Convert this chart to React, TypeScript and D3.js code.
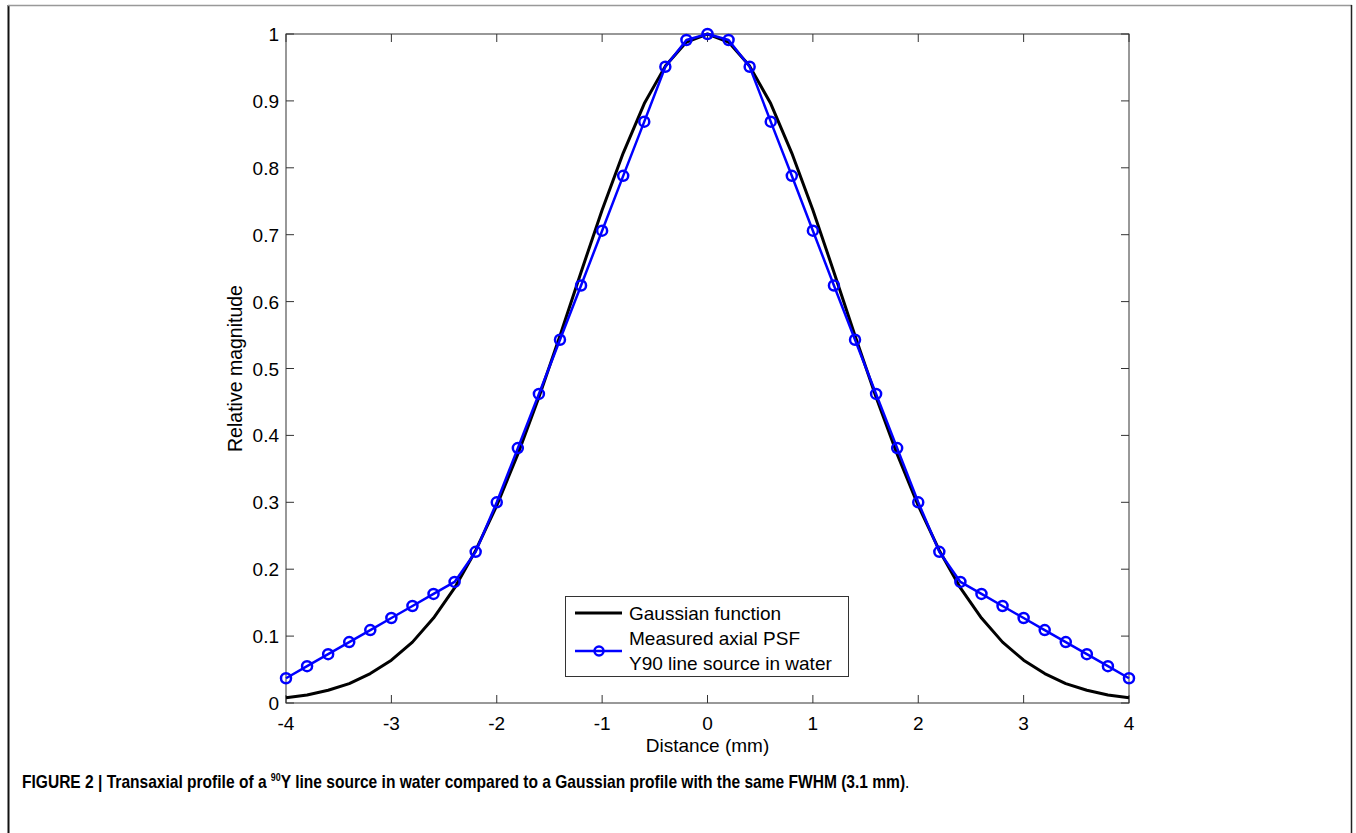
import React, { useLayoutEffect, useRef, useState } from "react";
import * as d3 from "d3";

const distance: number[] = [
  -4, -3.8, -3.6, -3.4, -3.2, -3, -2.8, -2.6, -2.4, -2.2, -2, -1.8, -1.6, -1.4, -1.2, -1, -0.8, -0.6, -0.4, -0.2,
  0, 0.2, 0.4, 0.6, 0.8, 1, 1.2, 1.4, 1.6, 1.8, 2, 2.2, 2.4, 2.6, 2.8, 3, 3.2, 3.4, 3.6, 3.8, 4,
];
const gaussian: number[] = [
  0.008, 0.012, 0.019, 0.029, 0.044, 0.064, 0.091, 0.127, 0.172, 0.228, 0.295, 0.372, 0.457, 0.549, 0.644, 0.737,
  0.822, 0.896, 0.952, 0.988, 1.0, 0.988, 0.952, 0.896, 0.822, 0.737, 0.644, 0.549, 0.457, 0.372, 0.295, 0.228,
  0.172, 0.127, 0.091, 0.064, 0.044, 0.029, 0.019, 0.012, 0.008,
];
const measured: number[] = [
  0.037, 0.055, 0.073, 0.091, 0.109, 0.127, 0.145, 0.163, 0.181, 0.226, 0.3, 0.381, 0.462, 0.543, 0.624, 0.706,
  0.788, 0.869, 0.951, 0.991, 1.0, 0.991, 0.951, 0.869, 0.788, 0.706, 0.624, 0.543, 0.462, 0.381, 0.3, 0.226,
  0.181, 0.163, 0.145, 0.127, 0.109, 0.091, 0.073, 0.055, 0.037,
];
const xTicks: number[] = [-4, -3, -2, -1, 0, 1, 2, 3, 4];
const yTicks: number[] = [0, 0.1, 0.2, 0.3, 0.4, 0.5, 0.6, 0.7, 0.8, 0.9, 1];
const legendLabels: string[] = ["Gaussian function", "Measured axial PSF", "Y90 line source in water"];

const FONT = "'Liberation Sans', Arial, Helvetica, sans-serif";

export default function App() {
  const L = 286, R = 1129, T = 34, B = 703;
  const x = d3.scaleLinear().domain([-4, 4]).range([L, R]);
  const y = d3.scaleLinear().domain([0, 1]).range([B, T]);
  const line = d3
    .line<[number, number]>()
    .x((d) => x(d[0]))
    .y((d) => y(d[1]));
  const gPts: [number, number][] = distance.map((d, i) => [d, gaussian[i]]);
  const mPts: [number, number][] = distance.map((d, i) => [d, measured[i]]);
  const tick = 8;
  const axisColor = "#333";
  const blue = "#0000ff";

  const capRef = useRef<SVGTextElement>(null);
  const [capScale, setCapScale] = useState(1);
  useLayoutEffect(() => {
    if (capRef.current) {
      const w = capRef.current.getBBox().width;
      if (w > 0) setCapScale(888 / w);
    }
  }, []);

  return (
    <svg
      width={1356}
      height={833}
      style={{ position: "absolute", left: 0, top: 0, background: "#fff" }}
      fontFamily={FONT}
    >
      <rect x={0} y={0} width={1356} height={833} fill="#fff" />
      {/* outer frame */}
      <line x1={8.5} y1={5} x2={8.5} y2={833} stroke="#111" strokeWidth={2} />
      <line x1={8} y1={5.5} x2={1352} y2={5.5} stroke="#999" strokeWidth={1.5} />
      <line x1={1351.5} y1={5} x2={1351.5} y2={833} stroke="#222" strokeWidth={1.5} />

      {/* plot area box */}
      <rect x={L} y={T} width={R - L} height={B - T} fill="none" stroke={axisColor} strokeWidth={1} />

      {/* x ticks */}
      {xTicks.map((t) => (
        <g key={"x" + t}>
          <line x1={x(t)} x2={x(t)} y1={B} y2={B - tick} stroke={axisColor} strokeWidth={1} />
          <line x1={x(t)} x2={x(t)} y1={T} y2={T + tick} stroke={axisColor} strokeWidth={1} />
          <text x={x(t)} y={B + 27} textAnchor="middle" fontSize={19} fill="#000">
            {String(t)}
          </text>
        </g>
      ))}
      {/* y ticks */}
      {yTicks.map((t) => (
        <g key={"y" + t}>
          <line x1={L} x2={L + tick} y1={y(t)} y2={y(t)} stroke={axisColor} strokeWidth={1} />
          <line x1={R} x2={R - tick} y1={y(t)} y2={y(t)} stroke={axisColor} strokeWidth={1} />
          <text x={L - 7} y={y(t) + 7} textAnchor="end" fontSize={19} fill="#000">
            {d3.format("~g")(t)}
          </text>
        </g>
      ))}

      {/* axis labels */}
      <text x={(L + R) / 2} y={752} textAnchor="middle" fontSize={19} fill="#000">
        Distance (mm)
      </text>
      <text
        transform={`translate(242, ${(T + B) / 2}) rotate(-90)`}
        textAnchor="middle"
        fontSize={19.5}
        fill="#000"
      >
        Relative magnitude
      </text>

      {/* data */}
      <path d={line(gPts) || ""} fill="none" stroke="#000" strokeWidth={3} strokeLinejoin="round" />
      <path d={line(mPts) || ""} fill="none" stroke={blue} strokeWidth={2.5} strokeLinejoin="round" />
      {mPts.map((p, i) => (
        <circle key={i} cx={x(p[0])} cy={y(p[1])} r={5} fill="none" stroke={blue} strokeWidth={2.5} />
      ))}

      {/* legend */}
      <g>
        <rect x={565.5} y={596.5} width={283} height={80} fill="#fff" stroke={axisColor} strokeWidth={1} />
        <line x1={575} x2={622} y1={613} y2={613} stroke="#000" strokeWidth={3} />
        <text x={629} y={619.5} fontSize={19} fill="#000">
          {legendLabels[0]}
        </text>
        <line x1={575} x2={622} y1={651} y2={651} stroke={blue} strokeWidth={2.5} />
        <circle cx={599} cy={651} r={4.5} fill="none" stroke={blue} strokeWidth={2.5} />
        <text x={629} y={645} fontSize={19} fill="#000">
          {legendLabels[1]}
        </text>
        <text x={629} y={670} fontSize={19} fill="#000">
          {legendLabels[2]}
        </text>
      </g>

      {/* caption */}
      <g transform={`translate(22, 788) scale(${capScale}, 1)`}>
        <text ref={capRef} x={0} y={0} fontSize={17.5} fontWeight="bold" fill="#000">
          FIGURE 2 | Transaxial profile of a <tspan fontSize={10} dy={-7}>90</tspan>
          <tspan dy={7}>Y line source in water compared to a Gaussian profile with the same FWHM (3.1 mm)</tspan>
          <tspan fontWeight="normal">.</tspan>
        </text>
      </g>
    </svg>
  );
}
